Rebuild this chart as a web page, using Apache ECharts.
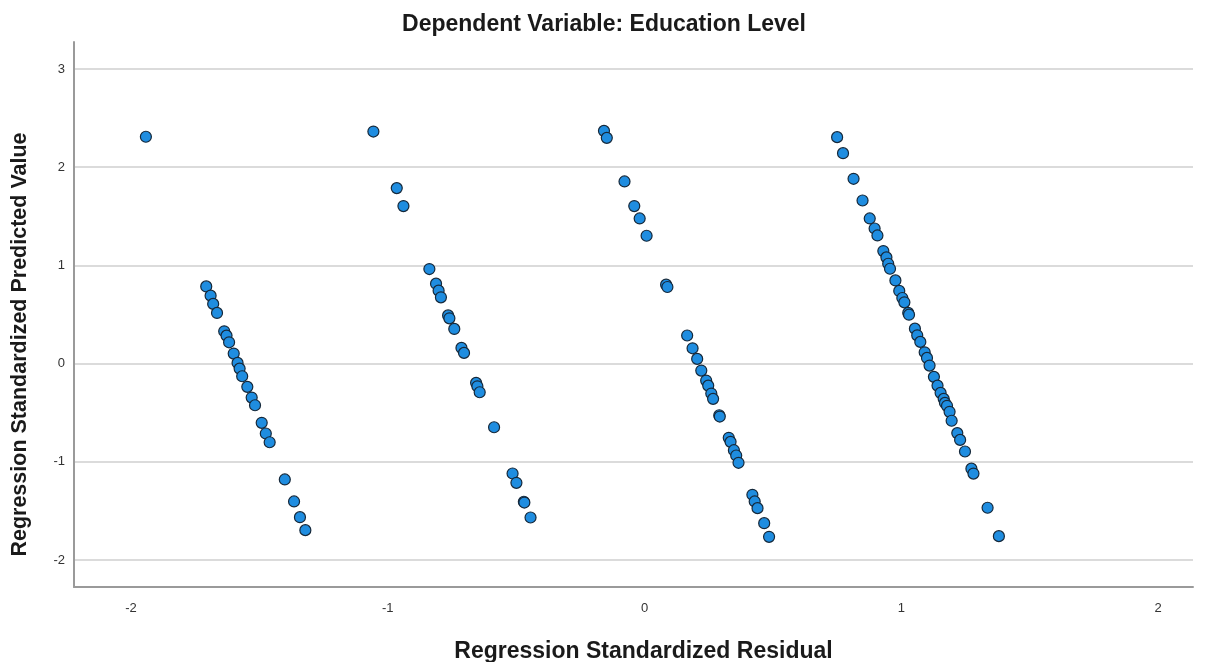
<!DOCTYPE html>
<html>
<head>
<meta charset="utf-8">
<script src="https://cdn.jsdelivr.net/npm/echarts@6/dist/echarts.min.js"></script>
<style>
  html, body { margin: 0; padding: 0; background: #fff; }
  #chart { width: 1208px; height: 662px; }
</style>
</head>
<body>
<div id="chart"></div>
<script>
// Standardized residual (x) vs standardized predicted value (y)
const residuals = [
  -1.942, -1.707, -1.690, -1.680, -1.665, -1.637, -1.628, -1.618, -1.600, -1.585,
  -1.577, -1.567, -1.547, -1.530, -1.517, -1.491, -1.475, -1.460, -1.401, -1.365,
  -1.342, -1.321,
  -1.056, -0.965, -0.939, -0.838, -0.812, -0.802, -0.793, -0.765, -0.760, -0.741,
  -0.713, -0.703, -0.656, -0.651, -0.642, -0.586, -0.514, -0.499, -0.470, -0.468,
  -0.444,
  -0.158, -0.147, -0.078, -0.040, -0.019, 0.008, 0.084, 0.089, 0.166, 0.187,
  0.205, 0.221, 0.240, 0.248, 0.260, 0.267, 0.291, 0.293, 0.328, 0.335,
  0.348, 0.357, 0.366, 0.420, 0.429, 0.440, 0.466, 0.485,
  0.750, 0.773, 0.814, 0.849, 0.877, 0.896, 0.907, 0.930, 0.942, 0.949,
  0.956, 0.977, 0.992, 1.004, 1.012, 1.027, 1.030, 1.053, 1.062, 1.074,
  1.091, 1.100, 1.110, 1.127, 1.141, 1.153, 1.165, 1.170, 1.178, 1.188,
  1.196, 1.218, 1.229, 1.248, 1.273, 1.281, 1.336, 1.380
];
const predicted = [
  2.310, 0.786, 0.692, 0.608, 0.516, 0.329, 0.285, 0.217, 0.102, 0.007,
  -0.051, -0.129, -0.237, -0.346, -0.424, -0.603, -0.712, -0.801, -1.180, -1.404,
  -1.564, -1.696,
  2.363, 1.787, 1.604, 0.963, 0.814, 0.743, 0.675, 0.491, 0.461, 0.353,
  0.160, 0.109, -0.196, -0.231, -0.292, -0.648, -1.119, -1.214, -1.407, -1.415,
  -1.567,
  2.370, 2.299, 1.855, 1.604, 1.478, 1.302, 0.804, 0.780, 0.286, 0.156,
  0.048, -0.071, -0.173, -0.224, -0.305, -0.359, -0.526, -0.539, -0.756, -0.797,
  -0.882, -0.936, -1.010, -1.336, -1.404, -1.472, -1.625, -1.764,
  2.306, 2.143, 1.882, 1.661, 1.478, 1.376, 1.305, 1.146, 1.082, 1.017,
  0.966, 0.847, 0.740, 0.668, 0.624, 0.516, 0.498, 0.356, 0.288, 0.221,
  0.115, 0.058, -0.020, -0.135, -0.224, -0.298, -0.359, -0.400, -0.430, -0.491,
  -0.582, -0.708, -0.777, -0.895, -1.070, -1.120, -1.468, -1.757
];
const xTicks = [-2, -1, 0, 1, 2];
const yTicks = [-2, -1, 0, 1, 2, 3];

const points = residuals.map((x, i) => [x, predicted[i]]);

const FONT = 'Liberation Sans, Arial, sans-serif';
const chart = echarts.init(document.getElementById('chart'), null, { renderer: 'canvas' });
chart.setOption({
  animation: false,
  backgroundColor: '#ffffff',
  textStyle: { fontFamily: FONT },
  title: {
    text: 'Dependent Variable: Education Level',
    left: 'center',
    top: 8,
    textStyle: { fontSize: 23, fontWeight: 'bold', color: '#1a1a1a', fontFamily: FONT }
  },
  grid: { left: 74, right: 15, top: 42, bottom: 75, containLabel: false, outerBoundsMode: 'none' },
  xAxis: {
    type: 'value',
    min: -2.222,
    max: 2.136,
    name: 'Regression Standardized Residual',
    nameLocation: 'middle',
    nameGap: 53,
    nameTextStyle: { fontSize: 23, fontWeight: 'bold', color: '#1a1a1a', padding: [0, 0, 0, 20] },
    axisLine: { onZero: false, lineStyle: { color: '#9a9a9a', width: 2 } },
    axisTick: { show: false, customValues: xTicks },
    axisLabel: { customValues: xTicks, color: '#333', fontSize: 13, margin: 15 },
    splitLine: { show: false }
  },
  yAxis: {
    type: 'value',
    min: -2.275,
    max: 3.275,
    name: 'Regression Standardized Predicted Value',
    nameLocation: 'middle',
    nameGap: 43,
    nameRotate: 90,
    nameTextStyle: { fontSize: 21.5, fontWeight: 'bold', color: '#1a1a1a', padding: [0, 60, 0, 0] },
    axisLine: { onZero: false, lineStyle: { color: '#9a9a9a', width: 2 } },
    axisTick: { show: false, customValues: yTicks },
    axisLabel: { customValues: yTicks, color: '#333', fontSize: 13, margin: 9 },
    splitLine: { show: true, lineStyle: { color: '#cfcfcf', width: 1.5 } }
  },
  series: [{
    type: 'scatter',
    data: points,
    symbol: 'circle',
    symbolSize: 11,
    itemStyle: { color: '#1f8de0', borderColor: '#15283a', borderWidth: 1.2, opacity: 1 }
  }]
});
</script>
</body>
</html>
